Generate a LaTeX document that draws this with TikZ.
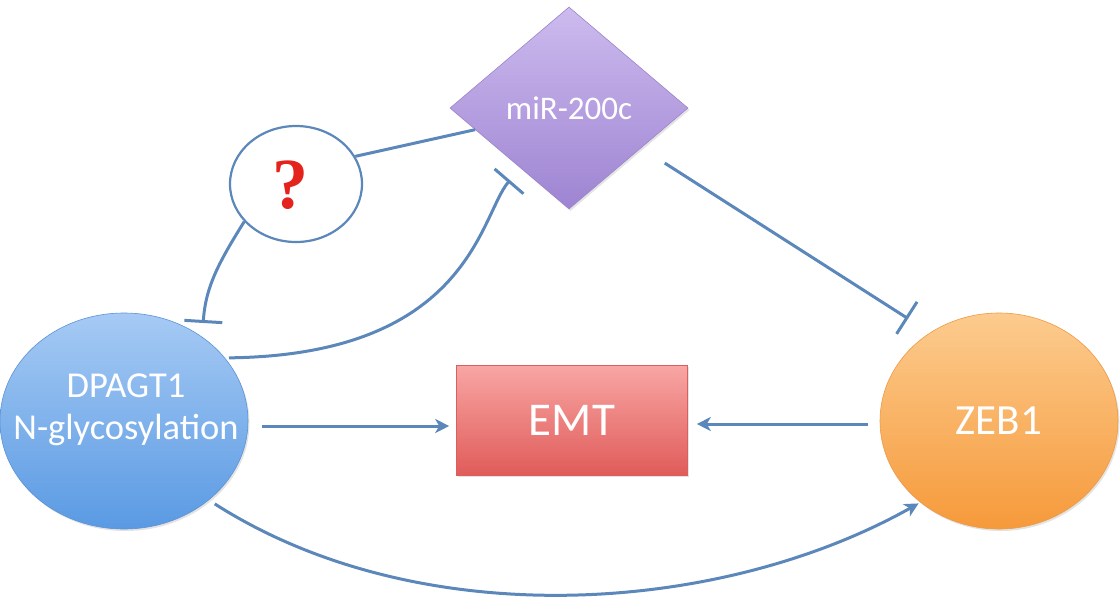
\documentclass[tikz,border=0pt]{standalone}
\usepackage{fontspec}
\setmainfont{Carlito}
\newfontfamily\qfont{Liberation Serif}
\usetikzlibrary{shapes.geometric,arrows.meta,shadows}
\definecolor{lnc}{HTML}{5B87BB}
\definecolor{dpT}{HTML}{A6CAF4}
\definecolor{dpB}{HTML}{5A9AE3}
\definecolor{dpE}{HTML}{5B93D6}
\definecolor{zbT}{HTML}{FCCB8E}
\definecolor{zbB}{HTML}{F69A3B}
\definecolor{zbE}{HTML}{EE9A45}
\definecolor{emT}{HTML}{F8A6A4}
\definecolor{emB}{HTML}{E05C5A}
\definecolor{emE}{HTML}{D9605E}
\definecolor{miT}{HTML}{CDBBEE}
\definecolor{miB}{HTML}{9E84D2}
\definecolor{miE}{HTML}{9A84CC}
\definecolor{qred}{HTML}{E3231C}
\begin{document}
\begin{tikzpicture}[x=1pt,y=-1pt,
  conn/.style={draw=lnc,line width=3pt},
  act/.style={conn,-{Stealth[length=14pt,width=14pt,inset=4pt]}},
  inh/.style={conn,-{Bar[width=38pt,line width=3pt]}},
  blob/.style={drop shadow={shadow xshift=1.5pt,shadow yshift=-2pt,opacity=0.22}},
  wtext/.style={text=white},
]
\useasboundingbox (0,0) rectangle (1120,606);

\node[ellipse, minimum width=248pt, minimum height=216pt, inner sep=0pt,
  top color=dpT, bottom color=dpB, draw=dpE, line width=0.6pt, blob] (dp) at (124,421) {};
\node[wtext, align=center, font=\fontsize{36.5}{42}\selectfont] (dplabel) at (126,410) {DPAGT1\\N-glycosylation};

\node[ellipse, minimum width=238pt, minimum height=216pt, inner sep=0pt,
  top color=zbT, bottom color=zbB, draw=zbE, line width=0.6pt, blob,
  wtext, font=\fontsize{43}{50}\selectfont] (zeb) at (999,421) {ZEB1};

\node[rectangle, minimum width=231pt, minimum height=110pt, inner sep=0pt,
  top color=emT, bottom color=emB, draw=emE, line width=0.6pt, blob,
  wtext, font=\fontsize{47}{56}\selectfont] (emt) at (572,420) {EMT};

\node[diamond, minimum width=238pt, minimum height=202pt, inner sep=0pt,
  top color=miT, bottom color=miB, draw=miE, line width=0.6pt, blob,
  wtext, font=\fontsize{33}{40}\selectfont] (mir) at (569,108) {miR-200c};

\node[ellipse, draw=lnc, line width=2.2pt, fill=white, minimum width=132pt,
  minimum height=116pt, inner sep=0pt] (q) at (296,184) {};
\node[text=qred, font=\qfont\bfseries\fontsize{72}{80}\selectfont] (qmark) at (290,185) {?};

\draw[conn] (q.25) -- (mir.193);
\draw[inh, shorten >=14pt] (q.216) .. controls +(-25,40) and +(3,-50) .. (dp.47);
\draw[inh, shorten <=4pt, shorten >=16pt] (dp.32) .. controls (470,355) and (480,215) .. (mir.231);
\draw[inh, shorten <=28pt, shorten >=26pt] (mir.331) -- (zeb.128);
\draw[act, shorten <=14pt, shorten >=7pt] ([yshift=-5pt]dp.east) -- ([yshift=-6pt]emt.west);
\draw[act, shorten <=12pt, shorten >=9pt] ([yshift=-3pt]zeb.west) -- ([yshift=-4pt]emt.east);
\draw[act, shorten <=7pt, shorten >=2pt] (dp.-43) .. controls (420,635) and (720,615) .. (zeb.226);
\end{tikzpicture}
\end{document}
